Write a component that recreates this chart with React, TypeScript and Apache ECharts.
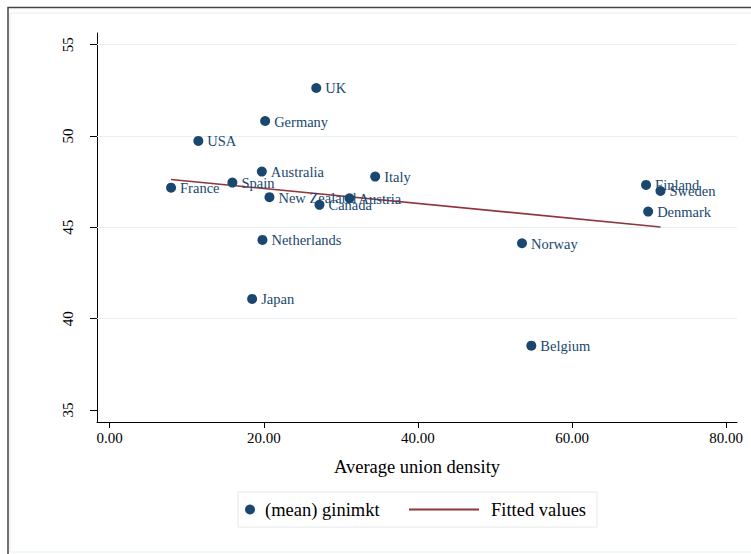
import React, { useEffect, useRef } from "react";
import * as echarts from "echarts";

const countries = ["UK", "Germany", "USA", "Australia", "Italy", "Spain", "France", "New Zealand", "Austria", "Canada", "Netherlands", "Japan", "Norway", "Belgium", "Finland", "Sweden", "Denmark"];
const unionDensity = [26.8, 20.17, 11.5, 19.74, 34.45, 15.92, 7.96, 20.73, 31.12, 27.22, 19.82, 18.48, 53.5, 54.71, 69.6, 71.47, 69.87];
const giniMkt = [52.63, 50.82, 49.73, 48.05, 47.78, 47.45, 47.17, 46.65, 46.59, 46.23, 44.31, 41.08, 44.13, 38.52, 47.32, 46.99, 45.86];
const fittedX = [7.96, 71.47];
const fittedY = [47.62, 45.02];
const yTicks = [35, 40, 45, 50, 55];
const yGridLines = [40, 45, 50, 55];
const xTicks = [0, 20, 40, 60, 80];

const NAVY = "#1a476f";
const MAROON = "#90353b";
const FONT = "'Liberation Serif', 'Times New Roman', serif";

export default function App() {
  const ref = useRef<HTMLDivElement>(null);
  useEffect(() => {
    if (!ref.current) return;
    const chart = echarts.init(ref.current, null, { renderer: "svg" });
    chart.setOption({
      animation: false,
      backgroundColor: "#ffffff",
      textStyle: { fontFamily: FONT },
      grid: { left: 97, top: 33, right: 14, bottom: 132, containLabel: false },
      xAxis: {
        type: "value",
        min: -1.65,
        max: 81.4,
        name: "Average union density",
        nameLocation: "middle",
        nameGap: 35,
        nameTextStyle: { fontFamily: FONT, fontSize: 18.5, color: "#000" },
        axisLine: { show: true, onZero: false, lineStyle: { color: "#000", width: 1 } },
        axisTick: { show: true, length: 6, lineStyle: { color: "#000" }, customValues: xTicks },
        axisLabel: {
          customValues: xTicks,
          formatter: (v: number) => v.toFixed(2),
          fontFamily: FONT,
          fontSize: 15,
          color: "#000",
          margin: 8,
        },
        splitLine: { show: false },
      },
      yAxis: {
        type: "value",
        min: 34.34,
        max: 55.64,
        axisLine: { show: true, onZero: false, lineStyle: { color: "#000", width: 1 } },
        axisTick: { show: true, length: 7, lineStyle: { color: "#000" }, customValues: yTicks },
        axisLabel: {
          customValues: yTicks,
          rotate: 90,
          fontFamily: FONT,
          fontSize: 15,
          color: "#000",
          margin: 22,
        },
        splitLine: { show: false },
      },
      legend: [
        {
          data: [{ name: "(mean) ginimkt", icon: "circle" }],
          left: 245,
          top: 500,
          padding: 0,
          itemWidth: 10,
          itemHeight: 10,
          textStyle: { fontFamily: FONT, fontSize: 18.5, color: "#000", padding: [0, 0, 0, 5] },
          selectedMode: false,
        },
        {
          data: [{ name: "Fitted values", icon: "rect" }],
          left: 409,
          top: 500,
          padding: 0,
          itemWidth: 70,
          itemHeight: 2,
          textStyle: { fontFamily: FONT, fontSize: 18.5, color: "#000", padding: [0, 0, 0, 7] },
          selectedMode: false,
        },
      ],
      graphic: [
        { type: "rect", shape: { x: 10, y: 13, width: 760, height: 539 }, style: { fill: "none", stroke: "#e6eef0", lineWidth: 1 }, silent: true, z: -1 },
        { type: "rect", shape: { x: 8, y: 7.5, width: 760, height: 560 }, style: { fill: "none", stroke: "#444", lineWidth: 1.5 }, silent: true },
        { type: "rect", shape: { x: 238, y: 492, width: 359, height: 35 }, style: { fill: "none", stroke: "#e3eaec", lineWidth: 1 }, silent: true },
      ],
      series: [
        {
          name: "(mean) ginimkt",
          type: "scatter",
          symbol: "circle",
          symbolSize: 10,
          itemStyle: { color: NAVY, opacity: 1 },
          data: countries.map((c, i) => ({ name: c, value: [unionDensity[i], giniMkt[i]] })),
          label: {
            show: true,
            position: "right",
            distance: 4,
            offset: [0, 0.5],
            formatter: (p: any) => p.name,
            fontFamily: FONT,
            fontSize: 14.5,
            color: NAVY,
          },
          z: 3,
          markLine: {
            silent: true,
            symbol: "none",
            label: { show: false },
            lineStyle: { color: "#e8eff1", width: 1.2, type: "solid" },
            data: yGridLines.map((v) => ({ yAxis: v })),
            z: 1,
          },
        },
        {
          name: "Fitted values",
          type: "line",
          symbol: "none",
          lineStyle: { color: MAROON, width: 1.6 },
          itemStyle: { color: MAROON },
          data: fittedX.map((x, i) => [x, fittedY[i]]),
          z: 2,
        },
      ],
    });
    return () => chart.dispose();
  }, []);
  return (
    <div
      ref={ref}
      style={{ position: "absolute", left: 0, top: 0, width: 751, height: 554 }}
    />
  );
}
